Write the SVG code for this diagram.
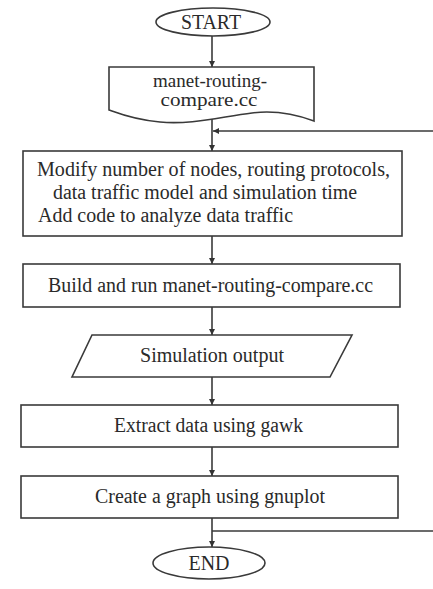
<svg xmlns="http://www.w3.org/2000/svg" width="433" height="589" viewBox="0 0 433 589">
<defs>
<marker id="ah" viewBox="0 0 10 10" refX="10" refY="5" markerWidth="6" markerHeight="6" markerUnits="userSpaceOnUse" orient="auto">
<path d="M0,0 L10,5 L0,10 Z" fill="#333"/>
</marker>
<style>
.s{fill:#fff;stroke:#3a3a3a;stroke-width:1.6}
.t{font-size:20px;fill:#2a2a2a}
.f{font-size:18px}
.c{fill:none;stroke:#3a3a3a;stroke-width:1.6}
</style>
</defs>
<rect width="433" height="589" fill="#fff"/>
<g id="connectors">
<line class="c" x1="212" y1="36" x2="212" y2="67" marker-end="url(#ah)"/>
<line class="c" x1="212" y1="119" x2="212" y2="151" marker-end="url(#ah)"/>
<line class="c" x1="433" y1="131" x2="213" y2="131" marker-end="url(#ah)"/>
<line class="c" x1="212" y1="236" x2="212" y2="264" marker-end="url(#ah)"/>
<line class="c" x1="212" y1="307" x2="212" y2="335" marker-end="url(#ah)"/>
<line class="c" x1="212" y1="377" x2="212" y2="405" marker-end="url(#ah)"/>
<line class="c" x1="212" y1="447" x2="212" y2="476" marker-end="url(#ah)"/>
<line class="c" x1="212" y1="518" x2="212" y2="547" marker-end="url(#ah)"/>
<line class="c" x1="212" y1="531" x2="433" y2="531"/>
</g>
<g font-family="'Liberation Serif', 'DejaVu Serif', serif">
<g id="start">
<ellipse class="s" cx="213" cy="22" rx="57" ry="14"/>
<text class="t" x="211" y="29" text-anchor="middle" textLength="60" lengthAdjust="spacingAndGlyphs">START</text>
</g>
<g id="file">
<path class="s" d="M109,67 H314 V121 C295,114 275,110 252,113 C220,117 190,125 160,122 C135,120 120,114 109,110 Z"/>
<text class="t f" x="210" y="87" text-anchor="middle" textLength="114" lengthAdjust="spacingAndGlyphs">manet-routing-</text>
<text class="t f" x="209" y="106" text-anchor="middle" textLength="97" lengthAdjust="spacingAndGlyphs">compare.cc</text>
</g>
<g id="modify">
<rect class="s" x="23" y="151" width="379" height="85"/>
<text class="t" x="37" y="176" textLength="353" lengthAdjust="spacingAndGlyphs">Modify number of nodes, routing protocols,</text>
<text class="t" x="53" y="199" textLength="304" lengthAdjust="spacingAndGlyphs">data traffic model and simulation time</text>
<text class="t" x="38" y="222" textLength="255" lengthAdjust="spacingAndGlyphs">Add code to analyze data traffic</text>
</g>
<g id="build">
<rect class="s" x="23" y="264" width="377" height="43"/>
<text class="t" x="48" y="292" textLength="325" lengthAdjust="spacingAndGlyphs">Build and run manet-routing-compare.cc</text>
</g>
<g id="output">
<path class="s" d="M92,335 H352 L330,377 H72 Z"/>
<text class="t" x="140" y="362" textLength="144" lengthAdjust="spacingAndGlyphs">Simulation output</text>
</g>
<g id="extract">
<rect class="s" x="21" y="405" width="377" height="42"/>
<text class="t" x="114" y="432" textLength="189" lengthAdjust="spacingAndGlyphs">Extract data using gawk</text>
</g>
<g id="graph">
<rect class="s" x="21" y="476" width="377" height="42"/>
<text class="t" x="95" y="503" textLength="230" lengthAdjust="spacingAndGlyphs">Create a graph using gnuplot</text>
</g>
<g id="end">
<ellipse class="s" cx="209" cy="563" rx="56" ry="16"/>
<text class="t" x="209" y="570" text-anchor="middle" textLength="41" lengthAdjust="spacingAndGlyphs">END</text>
</g>
</g>
</svg>
